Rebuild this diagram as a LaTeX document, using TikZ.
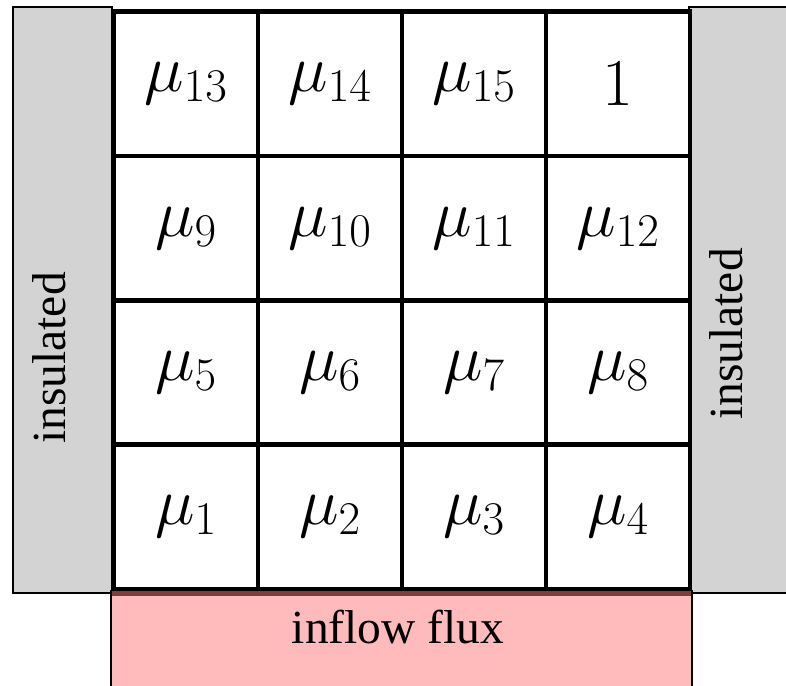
\RequirePackage{fix-cm}
\documentclass[tikz,border=0pt]{standalone}
\usepackage[no-math]{fontspec}
\newfontfamily\labelfont{Liberation Serif}
\definecolor{panelgray}{RGB}{211,211,211}
\definecolor{fluxpink}{RGB}{255,187,187}
\definecolor{fluxedge}{RGB}{125,62,62}
\begin{document}
\begin{tikzpicture}[x=1pt,y=-1pt,
  cell/.style={draw=black,line width=4.6pt,fill=white,minimum width=144pt,
    minimum height=144.4pt,inner sep=0pt,outer sep=0pt,
    font=\fontsize{67}{80}\selectfont},
  panel/.style={draw=black,line width=1.8pt,fill=panelgray},
  tag/.style={font=\labelfont\fontsize{47.5}{57}\selectfont,inner sep=0pt}]
\clip (0,0) rectangle (786,685);
% insulated side walls
\draw[panel] (13,7) rectangle (112,593);
\draw[panel] (689,7) rectangle (820,593);
% inflow boundary at the bottom
\draw[line width=1.5pt,fill=fluxpink] (111,591) rectangle (692,720);
\draw[fluxedge,line width=5pt] (112,593.5) -- (691,593.5);
% grid of unknowns
\node[cell] (c13) at (186,83.7) {$\mu_{13}$};
\node[cell] (c14) at (330,83.7) {$\mu_{14}$};
\node[cell] (c15) at (474,83.7) {$\mu_{15}$};
\node[cell] (c16) at (618,83.7) {$1$};
\node[cell] (c9)  at (186,228.1) {$\mu_{9}$};
\node[cell] (c10) at (330,228.1) {$\mu_{10}$};
\node[cell] (c11) at (474,228.1) {$\mu_{11}$};
\node[cell] (c12) at (618,228.1) {$\mu_{12}$};
\node[cell] (c5)  at (186,372.5) {$\mu_{5}$};
\node[cell] (c6)  at (330,372.5) {$\mu_{6}$};
\node[cell] (c7)  at (474,372.5) {$\mu_{7}$};
\node[cell] (c8)  at (618,372.5) {$\mu_{8}$};
\node[cell] (c1)  at (186,516.9) {$\mu_{1}$};
\node[cell] (c2)  at (330,516.9) {$\mu_{2}$};
\node[cell] (c3)  at (474,516.9) {$\mu_{3}$};
\node[cell] (c4)  at (618,516.9) {$\mu_{4}$};
% labels
\node[tag,rotate=90] (insL) at (49,358) {insulated};
\node[tag,rotate=90] (insR) at (726,334) {insulated};
\node[tag] (flux) at (398,627) {inflow flux};
\end{tikzpicture}
\end{document}
